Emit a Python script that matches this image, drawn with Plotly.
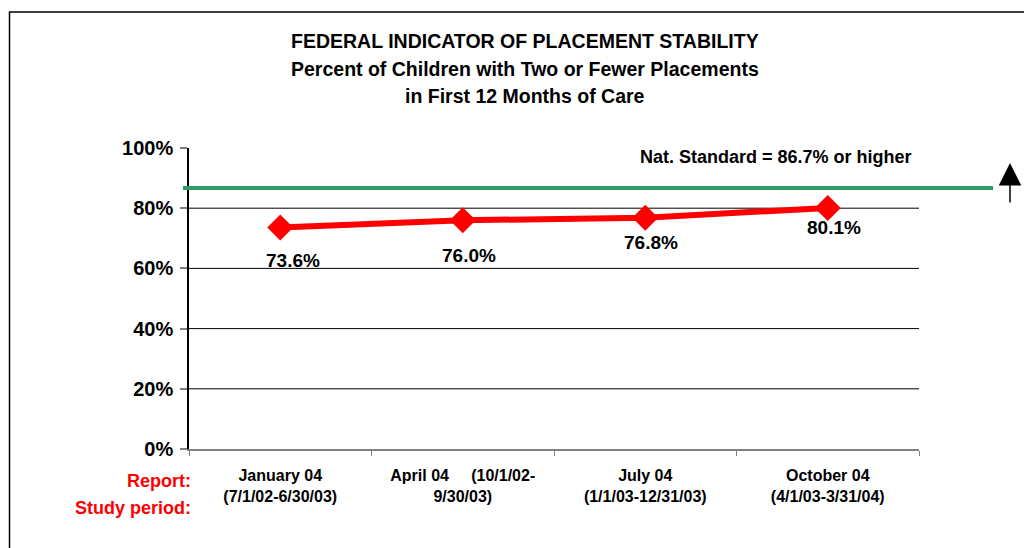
import plotly.graph_objects as go

# ---- data ----
title_lines = [
    "FEDERAL INDICATOR OF PLACEMENT STABILITY",
    "Percent of Children with Two or Fewer Placements",
    "in First 12 Months of Care",
]
reports = ["January 04", "April 04", "July 04", "October 04"]
tick_labels = [
    "January 04<br>(7/1/02-6/30/03)",
    "April 04&nbsp;&nbsp;&nbsp;&nbsp;&nbsp;(10/1/02-<br>9/30/03)",
    "July 04<br>(1/1/03-12/31/03)",
    "October 04<br>(4/1/03-3/31/04)",
]
values = [0.736, 0.760, 0.768, 0.801]
value_labels = ["73.6%", "76.0%", "76.8%", "80.1%"]
national_standard = 0.867
y_ticks = [0, 0.2, 0.4, 0.6, 0.8, 1.0]
y_tick_labels = ["0%", "20%", "40%", "60%", "80%", "100%"]
grid_values = [0.2, 0.4, 0.6, 0.8]

# label offsets (px) for data labels
label_dx = [13, 6, 6, 6]
label_dy = [-33, -35, -25, -20]
title_y_px = [41, 69, 96]

FONT = "Liberation Sans, Arial, sans-serif"

# page body has an 8px margin; figure coordinates are measured from the page
OFF = 8
PL, PR, PT, PB = 189, 919, 148, 449   # plot area in page px
PW, PH = PR - PL, PB - PT


def px(xp):
    return (xp - PL) / PW


def py(yp):
    return (PB - yp) / PH


fig = go.Figure()

fig.add_trace(go.Scatter(
    x=reports, y=values, mode="lines+markers",
    line=dict(color="#FF0000", width=6),
    marker=dict(symbol="diamond", size=20, color="#FF0000"),
    showlegend=False, hoverinfo="skip",
))

shapes = []
for g in grid_values:
    shapes.append(dict(type="line", xref="paper", yref="y", x0=0, x1=1, y0=g, y1=g,
                       line=dict(color="#000000", width=1), layer="below"))
# national standard line
shapes.append(dict(type="line", xref="paper", yref="y", x0=px(183), x1=px(993),
                   y0=national_standard, y1=national_standard,
                   line=dict(color="#339966", width=4)))
# border box
shapes.append(dict(type="rect", xref="paper", yref="paper",
                   x0=px(9.5), x1=px(1060), y0=py(600), y1=py(12),
                   line=dict(color="#000000", width=1.5), fillcolor="rgba(0,0,0,0)"))

annotations = []
for line, ty in zip(title_lines, title_y_px):
    annotations.append(dict(x=px(525), y=py(ty), xref="paper", yref="paper",
                            text=f"<b>{line}</b>", showarrow=False,
                            xanchor="center", yanchor="middle",
                            font=dict(family=FONT, size=19.5, color="#000000")))

for r, v, t, dx, dy in zip(reports, values, value_labels, label_dx, label_dy):
    annotations.append(dict(x=r, y=v, xref="x", yref="y", text=f"<b>{t}</b>", showarrow=False,
                            xshift=dx, yshift=dy, xanchor="center", yanchor="middle",
                            font=dict(family=FONT, size=19, color="#000000")))

annotations.append(dict(x=px(776), y=py(157), xref="paper", yref="paper",
                        text="<b>Nat. Standard = 86.7% or higher</b>", showarrow=False,
                        xanchor="center", yanchor="middle",
                        font=dict(family=FONT, size=18, color="#000000")))

# up arrow
annotations.append(dict(x=px(1010), y=py(163),
                        ax=0, ay=41,
                        xref="paper", yref="paper", axref="pixel", ayref="pixel",
                        text="", showarrow=True, arrowhead=2, arrowsize=3, arrowwidth=1.5,
                        arrowcolor="#000000"))

annotations.append(dict(x=px(193), y=py(481), xref="paper", yref="paper",
                        text="<b>Report:</b>", showarrow=False, xanchor="right", yanchor="middle",
                        font=dict(family=FONT, size=18, color="#FF0000")))
annotations.append(dict(x=px(193), y=py(508), xref="paper", yref="paper",
                        text="<b>Study period:</b>", showarrow=False, xanchor="right", yanchor="middle",
                        font=dict(family=FONT, size=18, color="#FF0000")))

fig.update_layout(
    width=1032 - OFF, height=548 - OFF,
    margin=dict(l=PL - OFF, r=1032 - PR, t=PT - OFF, b=548 - PB),
    paper_bgcolor="#FFFFFF", plot_bgcolor="#FFFFFF",
    shapes=shapes,
    annotations=annotations,
    font=dict(family=FONT, color="#000000"),
)

fig.update_xaxes(
    type="category", range=[-0.5, 3.5],
    tickmode="array", tickvals=reports, ticktext=[f"<b>{t}</b>" for t in tick_labels],
    tickson="boundaries", ticks="outside", ticklen=5, tickcolor="#808080",
    showline=True, linecolor="#808080", linewidth=2,
    showgrid=False, zeroline=False, ticklabelstandoff=11,
    tickfont=dict(family=FONT, size=16, color="#000000"),
)
fig.update_yaxes(
    range=[0, 1], tickmode="array", tickvals=y_ticks,
    ticktext=[f"<b>{t}</b>" for t in y_tick_labels],
    ticks="outside", ticklen=7, tickcolor="#808080", tickwidth=2,
    showline=True, linecolor="#000000", linewidth=1.5,
    showgrid=False, zeroline=False, ticklabelstandoff=3,
    tickfont=dict(family=FONT, size=20, color="#000000"),
)

fig.write_html("out.html")
